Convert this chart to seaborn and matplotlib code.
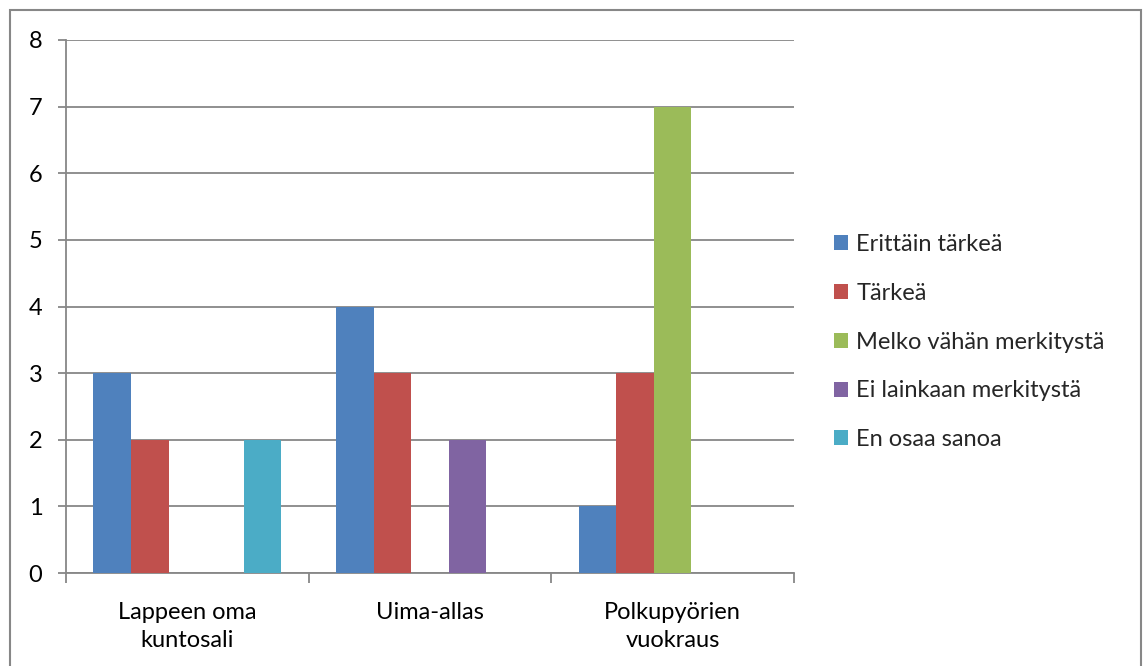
import matplotlib
matplotlib.use("Agg")
import matplotlib.pyplot as plt
import matplotlib.patches as mpatches
import pandas as pd
import seaborn as sns

categories = ["Lappeen oma\nkuntosali", "Uima-allas", "Polkupyörien\nvuokraus"]
series = ["Erittäin tärkeä", "Tärkeä", "Melko vähän merkitystä",
          "Ei lainkaan merkitystä", "En osaa sanoa"]
erittain_tarkea = [3, 4, 1]
tarkea = [2, 3, 3]
melko_vahan = [0, 0, 7]
ei_lainkaan = [0, 2, 0]
en_osaa = [2, 0, 0]
colors = ["#4F81BD", "#C0504D", "#9BBB59", "#8064A2", "#4BACC6"]

values = [erittain_tarkea, tarkea, melko_vahan, ei_lainkaan, en_osaa]
rows = []
for name, vals in zip(series, values):
    for cat, v in zip(categories, vals):
        rows.append({"kategoria": cat, "vastaus": name, "lukumäärä": v})
df = pd.DataFrame(rows)

sns.set_theme(style="white")
plt.rcParams["font.family"] = ["Lato", "DejaVu Sans"]

W, H = 1144, 666
fig = plt.figure(figsize=(W / 100, H / 100), dpi=100)
ax = fig.add_axes([66 / W, (H - 573) / H, (794 - 66) / W, (573 - 40) / H])

sns.barplot(data=df, x="kategoria", y="lukumäärä", hue="vastaus",
            order=categories, hue_order=series, palette=colors,
            width=0.775, saturation=1, linewidth=0, ax=ax, legend=False,
            zorder=3)

gray = "#878787"
fs = 17
ax.set_ylim(0, 8)
ax.set_xlim(-0.5, 2.5)
ax.set_yticks(range(0, 9))
ax.yaxis.grid(True, color=gray, linewidth=1.3, zorder=0)
ax.set_axisbelow(True)
ax.set_xlabel("")
ax.set_ylabel("")
for s in ["top", "right"]:
    ax.spines[s].set_visible(False)
for s in ["left", "bottom"]:
    ax.spines[s].set_color(gray)
    ax.spines[s].set_linewidth(1.3)

ax.tick_params(axis="y", which="major", length=6, width=1.3, color=gray,
               labelsize=fs, pad=11, left=True, labelcolor="black")
ax.set_xticks([0, 1, 2])
ax.set_xticklabels(categories, linespacing=1.4)
ax.tick_params(axis="x", which="major", length=0, labelsize=fs, pad=21,
               labelcolor="black")
ax.set_xticks([-0.5, 0.5, 1.5, 2.5], minor=True)
ax.tick_params(axis="x", which="minor", length=7, width=1.3, color=gray,
               bottom=True)

handles = [mpatches.Patch(facecolor=c, edgecolor="none") for c in colors]
fig.legend(handles, series, loc="center left",
           bbox_to_anchor=(822 / W, 1 - 342 / H), frameon=False,
           fontsize=fs, handlelength=0.6, handleheight=0.6,
           handletextpad=0.35, labelspacing=1.18, borderpad=0)

fig.add_artist(mpatches.Rectangle((10 / W, -0.05), (1141 - 10) / W, 1.05 - 10 / H,
                                  transform=fig.transFigure, fill=False,
                                  edgecolor=gray, linewidth=1.5))

fig.savefig("out.png", dpi=100, facecolor="white")
